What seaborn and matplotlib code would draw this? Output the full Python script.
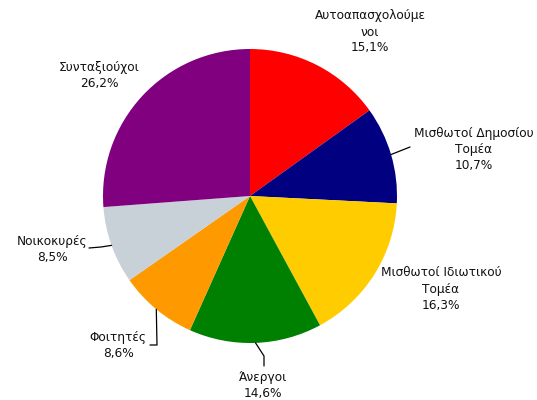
import numpy as np
import matplotlib
matplotlib.use("Agg")
import matplotlib.pyplot as plt
import seaborn as sns

categories = ["Αυτοαπασχολούμε\nνοι", "Μισθωτοί Δημοσίου\nΤομέα", "Μισθωτοί Ιδιωτικού\nΤομέα",
              "Άνεργοι", "Φοιτητές", "Νοικοκυρές", "Συνταξιούχοι"]
values = [15.1, 10.7, 16.3, 14.6, 8.6, 8.5, 26.2]
colors = ["#FF0000", "#000080", "#FFCC00", "#008000", "#FF9900", "#C8D1D8", "#800080"]

sns.set_style("white")
plt.rcParams['font.family'] = ['DejaVu Sans']

W, H = 537, 400
fig = plt.figure(figsize=(W / 100, H / 100), dpi=100)
ax = fig.add_axes([0, 0, 1, 1])

cx, cy, r = 250, H - 196, 147
wedges, _ = ax.pie(values, colors=colors, startangle=90, counterclock=False,
                   center=(cx, cy), radius=r, wedgeprops=dict(linewidth=0),
                   frame=True)
ax.set_xlim(0, W)
ax.set_ylim(0, H)
ax.set_aspect("equal")
ax.axis("off")

# label centers (pixel coords) and leader elbows
label_pos = [(370, 32), (474, 149), (441, 289), (263, 386), (118, 345), (52, 249), (99, 76)]
leaders = {
    1: [(410, 147)],
    3: [(264, 356), (264, 366)],
    4: [(157, 345), (150, 345)],
    5: [(101, 247), (89, 248)],
}

for i, (w, lab, v) in enumerate(zip(wedges, categories, values)):
    txt = f"{lab}\n{v:.1f}%".replace(".", ",")
    lx, ly = label_pos[i]
    ax.text(lx, H - ly, txt, ha="center", va="center", fontsize=8.7,
            linespacing=1.3, color="#111111")
    if i in leaders:
        ang = np.deg2rad((w.theta1 + w.theta2) / 2)
        ex, ey = cx + r * np.cos(ang), cy + r * np.sin(ang)
        xs = [ex] + [p[0] for p in leaders[i]]
        ys = [ey] + [H - p[1] for p in leaders[i]]
        ax.plot(xs, ys, color="black", lw=0.9)

fig.savefig("out.png", dpi=100)
